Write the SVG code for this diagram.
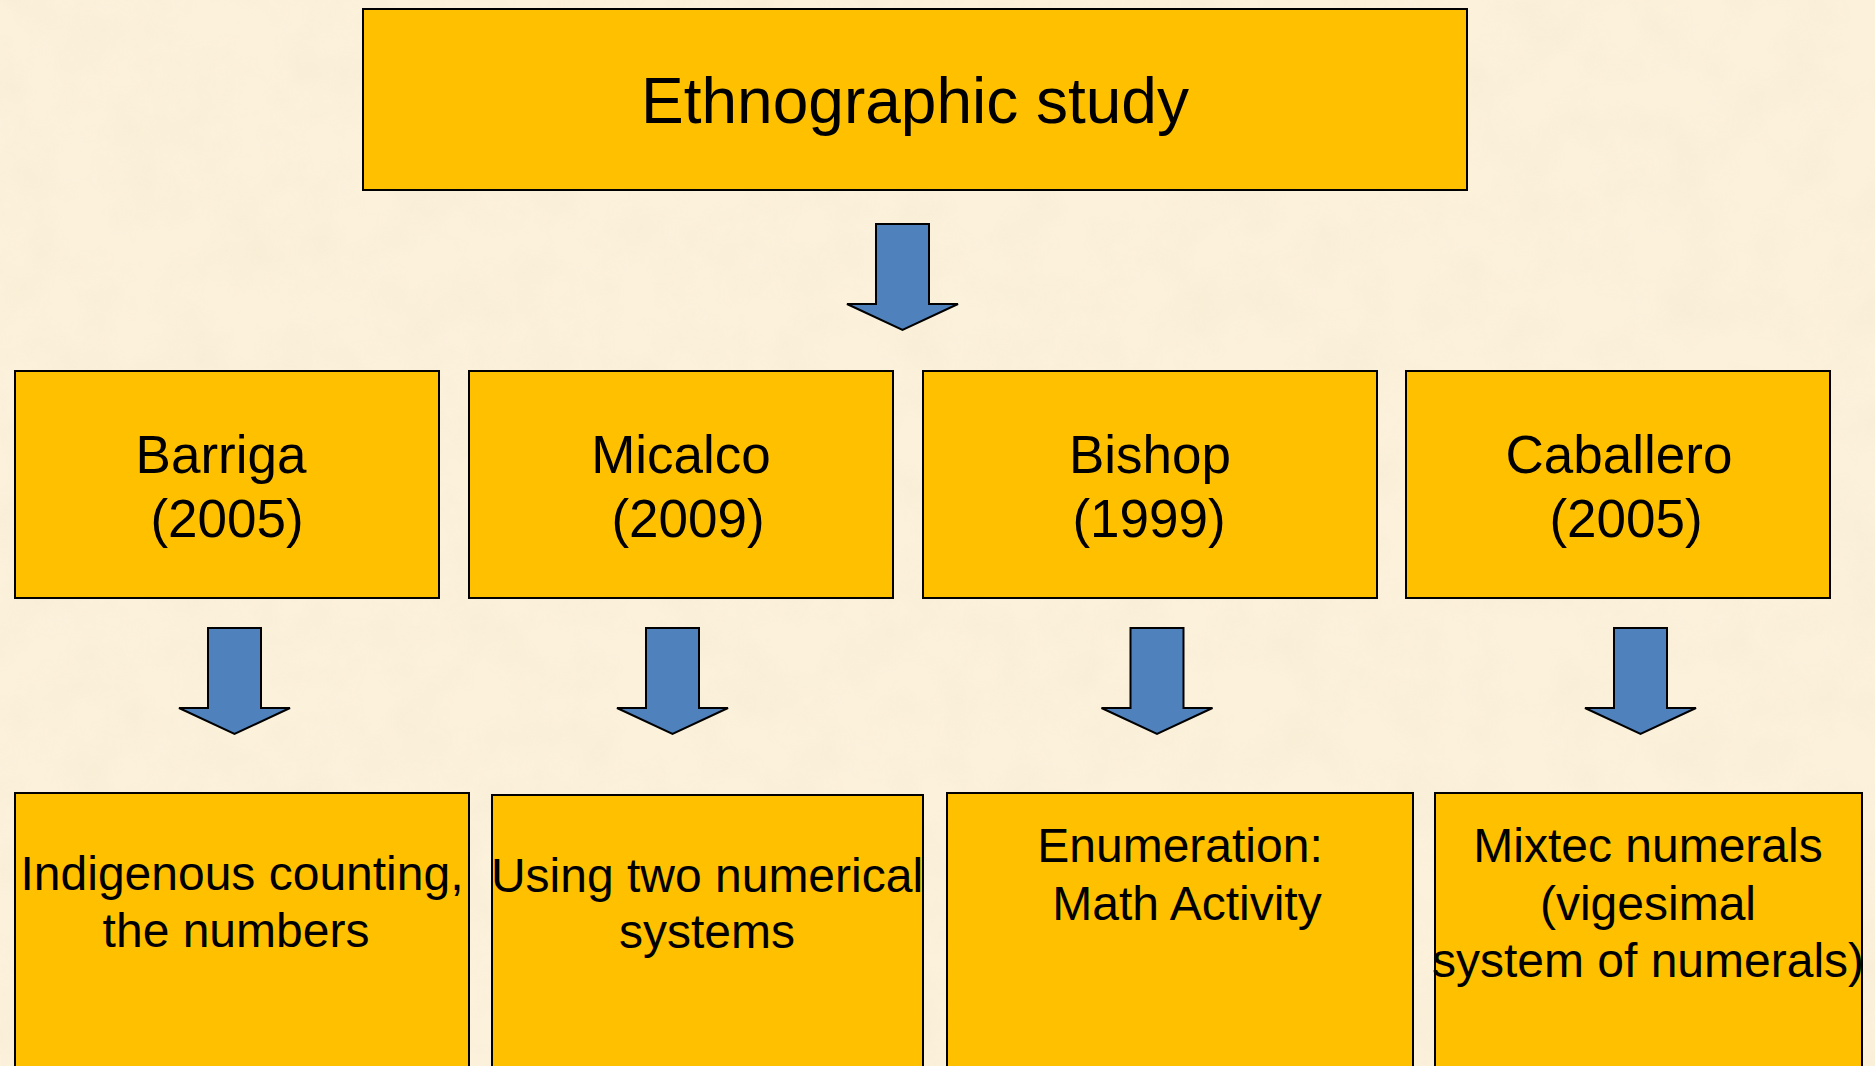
<svg xmlns="http://www.w3.org/2000/svg" xmlns:xlink="http://www.w3.org/1999/xlink" width="1875" height="1066" viewBox="0 0 1875 1066">
<style>
.box{fill:#FFC000;stroke:#000;stroke-width:2}
.arrow{fill:#4F81BD;stroke:#000;stroke-width:2;stroke-linejoin:miter}
text{font-family:"Liberation Sans",Arial,sans-serif;fill:#000;text-anchor:middle}
.t1{font-size:64px}
.t2{font-size:53px}
.t3{font-size:48px}
</style>
<defs>
<filter id="paper" x="0" y="0" width="100%" height="100%">
<feTurbulence type="fractalNoise" baseFrequency="0.018" numOctaves="4" seed="7"/>
<feColorMatrix type="matrix" values="0 0 0 0 0.92  0 0 0 0 0.84  0 0 0 0 0.66  0 0 0 1.5 -0.55"/>
</filter>
<path id="arr" d="M-26.5,0 H26.5 V80 H55.5 L0,106 L-55.5,80 H-26.5 Z"/>
</defs>
<rect width="1875" height="1066" fill="#FCF1DB"/>
<rect width="1875" height="1066" filter="url(#paper)" opacity="0.7"/>

<g id="connectors">
<use href="#arr" class="arrow" transform="translate(902.5,224)"/>
<use href="#arr" class="arrow" transform="translate(234.5,628)"/>
<use href="#arr" class="arrow" transform="translate(672.5,628)"/>
<use href="#arr" class="arrow" transform="translate(1157,628)"/>
<use href="#arr" class="arrow" transform="translate(1640.5,628)"/>
</g>

<g id="ethnographic">
<rect class="box" x="363" y="9" width="1104" height="181"/>
<text class="t1" x="915" y="123">Ethnographic study</text>
</g>

<g id="barriga">
<rect class="box" x="15" y="371" width="424" height="227"/>
<text class="t2" x="221" y="473">Barriga</text>
<text class="t2" x="227" y="537">(2005)</text>
</g>
<g id="micalco">
<rect class="box" x="469" y="371" width="424" height="227"/>
<text class="t2" x="681" y="473">Micalco</text>
<text class="t2" x="688" y="537">(2009)</text>
</g>
<g id="bishop">
<rect class="box" x="923" y="371" width="454" height="227"/>
<text class="t2" x="1150" y="473">Bishop</text>
<text class="t2" x="1149" y="537">(1999)</text>
</g>
<g id="caballero">
<rect class="box" x="1406" y="371" width="424" height="227"/>
<text class="t2" x="1619" y="473">Caballero</text>
<text class="t2" x="1626" y="537">(2005)</text>
</g>

<g id="indigenous">
<rect class="box" x="15" y="793" width="454" height="290"/>
<text class="t3" x="242" y="890">Indigenous counting,</text>
<text class="t3" x="236" y="947">the numbers</text>
</g>
<g id="twosystems">
<rect class="box" x="492" y="795" width="431" height="290"/>
<text class="t3" x="707" y="892">Using two numerical</text>
<text class="t3" x="707" y="948">systems</text>
</g>
<g id="enumeration">
<rect class="box" x="947" y="793" width="466" height="290"/>
<text class="t3" x="1180" y="862">Enumeration:</text>
<text class="t3" x="1187" y="920">Math Activity</text>
</g>
<g id="mixtec">
<rect class="box" x="1435" y="793" width="427" height="290"/>
<text class="t3" x="1648" y="862">Mixtec numerals</text>
<text class="t3" x="1648" y="920">(vigesimal</text>
<text class="t3" x="1648" y="977">system of numerals)</text>
</g>
</svg>
